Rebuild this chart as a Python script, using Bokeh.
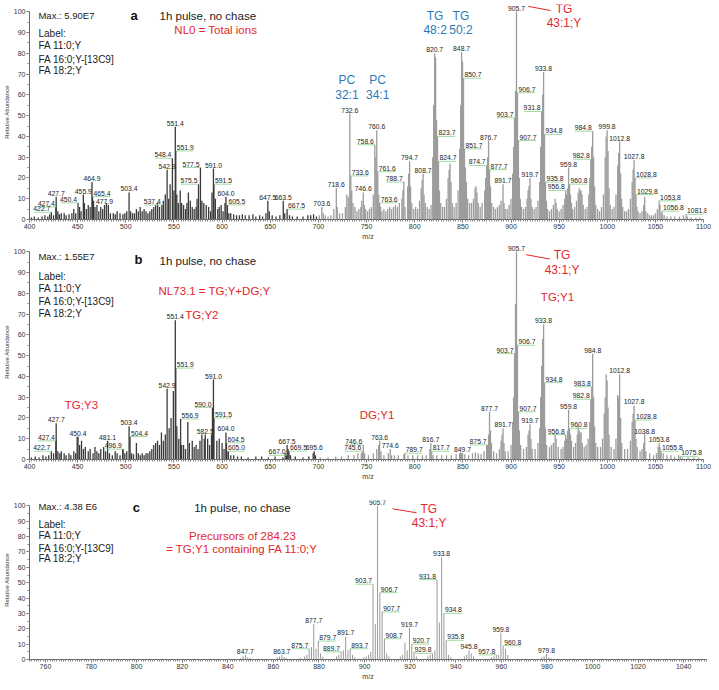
from bokeh.plotting import figure
from bokeh.models import ColumnDataSource, LabelSet, Label, Range1d, SingleIntervalTicker
from bokeh.layouts import column
from bokeh.core.properties import value
from bokeh.embed import file_html
from bokeh.resources import INLINE

FONT = "Liberation Sans"
RED = "#e5262b"
BLUE = "#2b7bba"
DARK = "#3a3a3a"
GRAY = "#9c9c9c"
LEADER = "#8ccf8c"
W = 711
YTOP = 103.5

# ---------------- panel a : NL0 = total ions ----------------
a_lab_mz = [422.7, 427.4, 427.7, 450.4, 455.9, 464.9, 465.4, 477.9, 503.4, 537.4,
            542.9, 548.4, 551.4, 551.9, 575.5, 577.5, 591.0, 591.5, 604.0, 605.5,
            647.5, 663.5, 667.5, 703.6, 718.6, 732.6, 733.6, 746.6, 758.6, 760.6,
            761.6, 763.6, 788.7, 794.7, 808.7, 820.7, 823.7, 824.7, 848.7, 850.7,
            851.7, 874.7, 876.7, 877.7, 891.7, 903.7, 905.7, 906.7, 907.7, 919.7,
            931.8, 933.8, 934.8, 935.8, 956.8, 959.8, 960.8, 982.8, 984.8, 999.8,
            1012.8, 1027.8, 1028.8, 1029.8, 1053.8, 1056.8, 1081.8]
a_lab_int = [3.5, 6, 11, 8, 12, 18, 11, 7, 13, 7,
             24, 29.5, 44.7, 33, 17, 25, 24.5, 17, 11, 7,
             9, 9, 5, 6, 15, 51, 21, 13, 36, 43,
             23, 8, 18, 28, 22, 80, 40, 28, 80.5, 68,
             34, 26, 38, 24, 17, 49, 100, 61, 38, 20,
             52, 71, 41, 18, 14, 25, 17, 29, 42.5, 43,
             37.5, 28.7, 20, 12, 9, 4, 2.5]
a_lab_side = ["l", "l", "c", "l", "c", "c", "r", "c", "c", "l",
              "c", "l", "c", "r", "l", "l", "c", "r", "c", "r",
              "c", "c", "r", "c", "c", "c", "r", "c", "l", "c",
              "r", "r", "l", "c", "c", "c", "r", "r", "c", "r",
              "r", "l", "c", "r", "c", "l", "c", "r", "r", "c",
              "l", "c", "r", "r", "l", "c", "r", "l", "l", "c",
              "c", "c", "r", "r", "r", "r", "r"]
a_mz_lo = [402, 405, 409, 413, 416, 419, 421, 425, 429.5, 431,
           433, 436, 438, 441, 444, 446, 448, 452, 453.5, 457,
           459, 461, 463, 466.5, 468, 470, 472, 474, 476, 479.9,
           481.9, 484, 487, 489, 491, 494, 497, 499, 501, 505,
           507, 509, 511, 513, 515, 517, 519, 521, 523, 525,
           527, 529, 531, 533, 535, 539, 541, 544.5, 546, 550,
           553, 554.5, 556.5, 558, 560, 562, 563.5, 565, 567, 569,
           571, 573, 574, 579, 581, 583.5, 586, 588, 589.5, 593,
           595.5, 597, 599, 601, 603, 607, 609, 612, 615, 618,
           621, 624, 628, 632, 635, 639, 642, 645.5, 649, 652,
           656, 660, 665, 670, 673, 678, 684, 689, 692, 695,
           698]
a_int_lo = [1, 1.5, 1, 1.5, 2, 1.5, 2.5, 2, 4, 2.5,
            3, 3, 2, 2.5, 3, 5, 3, 6, 4, 8,
            5, 7, 6, 9, 6, 7, 4, 6, 5, 8,
            7, 3, 3, 2.5, 4, 3, 2.5, 3, 4, 4,
            3, 3, 5, 4, 6, 4, 5, 4, 3, 4,
            5, 6, 7, 8, 6, 9, 12, 10, 17, 14,
            12, 8, 14, 8, 7, 5, 8, 13, 9, 6,
            5, 6, 10, 9, 8, 7, 6, 4, 13, 10,
            5, 6, 7, 4, 8, 3, 3, 2.5, 2, 2,
            2.5, 2, 2, 2.5, 1.5, 2, 1.5, 3, 4, 2,
            1.5, 2, 3, 2, 1.5, 1.5, 1.5, 2, 2, 2.5,
            1.5]
a_mz_hi = [701, 705, 707, 710, 713, 716, 719.6, 722, 725, 728,
           729.5, 731, 734.6, 736, 738, 740, 742, 744, 745, 747.6,
           749, 751, 753, 755, 757, 759.6, 762.6, 764.6, 766, 768,
           770, 772, 774, 776, 778, 780, 782, 784, 786.7, 787.7,
           790, 792.7, 793.7, 795.7, 797, 799, 801, 803, 805, 806.7,
           807.7, 809.7, 811, 813, 815, 817, 818.7, 819.7, 821.7, 822.7,
           825.7, 827, 829, 831, 833, 834.7, 835.7, 836.7, 837.7, 839,
           841, 843, 845, 846.7, 847.7, 849.7, 852.7, 853.7, 855, 857,
           859, 861, 862.7, 863.7, 864.7, 866, 868, 870, 872.7, 873.7,
           875.7, 878.7, 880, 882, 884, 886, 888, 889.7, 892.7, 894,
           896, 898, 900, 901.7, 902.7, 904.7, 908.7, 909.7, 911, 913,
           915, 916.7, 917.7, 918.7, 920.7, 922, 924, 926, 928, 929.8,
           930.8, 932.8, 936.8, 938, 940, 942, 944, 945.8, 946.8, 948,
           950, 952, 954, 955.8, 957.8, 958.8, 961.8, 962.8, 964, 966,
           968, 969.8, 970.8, 971.8, 972.8, 973.8, 975, 977, 979, 980.8,
           981.8, 983.8, 985.8, 986.8, 988, 990, 992, 994, 996, 997.8,
           998.8, 1000.8, 1001.8, 1003, 1005, 1007, 1009, 1010.8, 1011.8, 1013.8,
           1014.8, 1016, 1018, 1020, 1022, 1024, 1025.8, 1026.8, 1030.8, 1032,
           1034, 1036, 1037.8, 1038.8, 1040, 1042, 1044, 1046, 1048, 1050,
           1052, 1054.8, 1057, 1059, 1062, 1066, 1070, 1075, 1079, 1083,
           1087, 1092, 1096]
a_int_hi = [2, 3, 2, 1.5, 2, 5, 6, 3, 3, 6,
            12, 11, 14, 8, 6, 4, 5, 6, 9, 7,
            5, 4, 5, 6, 12, 30, 12, 6, 4, 5,
            4, 5, 6, 5, 6, 7, 6, 8, 10, 14,
            6, 16, 22, 16, 8, 5, 6, 5, 9, 15,
            19, 12, 8, 6, 5, 7, 30, 55, 78, 48,
            14, 8, 6, 6, 10, 20, 24, 27, 18, 8,
            6, 8, 14, 34, 55, 76, 25, 18, 10, 8,
            8, 10, 15, 16, 13, 8, 6, 8, 14, 20,
            30, 16, 8, 6, 5, 6, 7, 9, 8, 5,
            5, 7, 10, 22, 35, 62, 20, 10, 6, 5,
            6, 10, 14, 16, 10, 6, 5, 6, 9, 18,
            35, 60, 9, 5, 4, 5, 7, 10, 8, 5,
            4, 5, 7, 10, 12, 15, 12, 8, 5, 6,
            9, 13, 15, 14, 14, 12, 7, 5, 6, 12,
            20, 35, 30, 16, 7, 5, 4, 6, 12, 30,
            40, 33, 15, 7, 5, 6, 12, 26, 32, 22,
            10, 6, 4, 4, 5, 10, 18, 24, 6, 4,
            3, 4, 7, 11, 4, 3, 2, 2, 2, 3,
            5, 7, 3, 2, 1.5, 1.5, 1.5, 1.5, 2, 1.5,
            1, 1, 1]

# ---------------- panel b : NL73.1 ----------------
b_lab_mz = [422.7, 427.4, 427.7, 450.4, 481.1, 496.9, 503.4, 504.4, 542.9, 551.4,
            551.9, 556.9, 582.5, 590.0, 591.0, 591.5, 604.0, 604.5, 605.0, 667.0,
            667.5, 669.5, 695.6, 745.6, 746.6, 763.6, 774.6, 789.7, 816.7, 817.7,
            849.7, 875.7, 877.7, 891.7, 903.7, 905.7, 906.7, 907.7, 919.7, 933.8,
            934.8, 956.8, 959.8, 960.8, 982.8, 983.8, 984.8, 1012.8, 1027.8, 1028.8,
            1038.8, 1053.8, 1055.8, 1075.8]
b_lab_int = [4, 9, 17.5, 11, 9, 5, 16, 11, 34, 67,
             44, 19.5, 12, 25, 38.5, 20, 13, 8, 4, 2,
             7, 4, 4, 4, 7, 9, 5, 3, 8, 4,
             3, 7, 23, 15, 51, 100, 55, 23, 17, 65,
             37, 12, 24, 15, 29, 35, 51, 41, 26, 19,
             12, 8, 4, 1.5]
b_lab_side = ["l", "l", "c", "c", "c", "l", "c", "r", "c", "c",
              "r", "r", "c", "l", "c", "r", "c", "r", "r", "l",
              "c", "r", "c", "l", "l", "c", "c", "r", "c", "r",
              "c", "l", "c", "c", "l", "c", "r", "r", "c", "c",
              "r", "l", "c", "r", "l", "l", "c", "c", "c", "r",
              "c", "c", "r", "r"]
b_mz_lo = [402, 406, 410, 414, 417, 420, 425, 429.5, 431.5, 433,
           436, 438, 441, 443, 446, 448, 449.5, 452, 454, 456,
           458, 461, 463, 466, 468, 470, 472, 474, 477, 479,
           483, 486, 489, 491, 494, 497, 499, 501, 506, 508,
           511, 513, 515, 517, 519, 521, 523, 525, 527, 529,
           531, 533, 535, 537, 539, 541, 545, 547, 549.4, 553,
           555, 558, 560, 562, 564.4, 566, 569, 571, 573, 575,
           577, 579, 581.5, 585, 587, 589, 594.5, 597, 600, 602,
           606.5, 609, 612, 616, 620, 627, 635, 641, 648, 655,
           663, 665.5, 668.5, 671, 676, 684, 690, 694.6, 697]
b_int_lo = [1, 1.5, 1, 2, 1.5, 2, 3, 4, 3, 4,
            3, 2, 3, 2, 4, 3, 11, 7, 9, 5,
            6, 4, 5, 3, 6, 4, 3, 5, 6, 4,
            3, 2, 4, 3, 2, 5, 3, 4, 3, 2.5,
            8, 3, 2, 3, 2, 3, 3, 4, 5, 7,
            8, 9, 7, 13, 9, 12, 15, 20, 33, 16,
            10, 7, 7, 5, 18, 8, 9, 6, 7, 5,
            9, 12, 10, 10, 7, 12, 9, 10, 8, 5,
            4, 2, 2, 1.5, 1.5, 1, 1.5, 1.5, 1, 1.5,
            1, 3, 5, 2, 1.5, 1, 1.5, 3, 2]
b_mz_hi = [702, 710, 718, 724, 731, 737, 741, 744.6, 748, 752,
           757, 760.6, 762.6, 765, 768, 772.6, 776, 779, 783, 788.7,
           793, 798, 803, 808, 812, 815.7, 819, 823, 828, 833,
           838, 843, 846.7, 847.7, 848.7, 852, 856, 860, 863, 866,
           869, 872, 874.7, 876.7, 878.7, 879.7, 882, 885, 888, 889.7,
           890.7, 892.7, 894, 897, 900, 901.7, 902.7, 904.7, 908.7, 910,
           913, 916, 917.7, 918.7, 920.7, 922, 925, 928, 929.8, 930.8,
           931.8, 932.8, 935.8, 937, 940, 942, 944, 945.8, 946.8, 949,
           952, 954, 955.8, 957.8, 958.8, 961.8, 962.8, 965, 967, 968.8,
           969.8, 970.8, 971.8, 972.8, 974, 976, 978, 980, 981.8, 985.8,
           986.8, 988, 990, 993, 995, 996.8, 997.8, 998.8, 999.8, 1000.8,
           1001.8, 1004, 1007, 1009, 1010.8, 1011.8, 1013.8, 1015, 1018, 1021,
           1024, 1025.8, 1026.8, 1029.8, 1031, 1034, 1036, 1037.8, 1040, 1044,
           1048, 1051, 1052.8, 1054.8, 1058, 1062, 1066, 1070, 1074, 1078,
           1084, 1090, 1095]
b_int_hi = [1, 1, 1.5, 1.5, 2, 2, 3, 3, 3, 2,
            3, 5, 7, 4, 2, 3, 2, 2, 2, 2.5,
            2, 2, 2, 2, 2, 5, 2, 2, 2, 2,
            2, 2.5, 3, 3.5, 3, 2.5, 2, 3, 3.5, 3,
            2.5, 4, 7, 12, 14, 8, 4, 3, 5, 9,
            12, 8, 4, 4, 7, 18, 30, 75, 14, 7,
            5, 6, 12, 14, 10, 5, 5, 8, 15, 30,
            45, 58, 15, 7, 6, 7, 8, 12, 10, 6,
            5, 6, 9, 10, 14, 12, 9, 6, 8, 12,
            16, 14, 13, 13, 8, 6, 7, 10, 18, 30,
            16, 8, 6, 6, 10, 22, 30, 41, 38, 25,
            12, 6, 5, 10, 31, 30, 20, 8, 5, 5,
            9, 18, 22, 10, 6, 4, 5, 8, 4, 3,
            2, 3, 6, 6, 3, 2, 2, 1.5, 2, 1,
            1, 1, 1]

# ---------------- panel c : precursors of 284.23 ----------------
c_lab_mz = [847.7, 863.7, 875.7, 877.7, 879.7, 889.7, 891.7, 893.7, 903.7, 905.7,
            906.7, 907.7, 908.7, 919.7, 920.7, 929.8, 931.8, 933.8, 934.8, 935.8,
            945.8, 957.8, 959.8, 960.8, 979.8]
c_lab_int = [3, 3, 7, 23, 12, 5, 15, 7, 49, 100,
             43.5, 31, 13.5, 20.5, 10, 4, 52, 66.5, 30, 12.5,
             6, 3, 17.5, 9, 3.5]
c_lab_side = ["c", "c", "l", "c", "r", "l", "c", "r", "l", "c",
              "r", "r", "r", "c", "r", "l", "l", "c", "r", "r",
              "c", "l", "c", "r", "c"]
c_mz = [845.7, 846.7, 848.7, 849.7, 861.7, 862.7, 864.7, 865.7, 871.7, 873.7,
        874.7, 876.7, 878.7, 880.7, 881.7, 887.7, 888.7, 890.7, 892.7, 894.7,
        895.7, 899.7, 900.7, 901.7, 902.7, 904.7, 909.7, 910.7, 915.7, 916.7,
        917.7, 918.7, 921.7, 922.7, 927.8, 928.8, 930.8, 932.8, 936.8, 937.8,
        943.8, 944.8, 946.8, 947.8, 955.8, 956.8, 958.8, 961.8, 962.8, 977.8,
        978.8, 980.8, 981.8]
c_int = [1, 2, 1.5, 1, 1.5, 2, 1.5, 1, 1, 2,
         3, 8, 7, 4, 2, 2, 3, 6, 6, 3,
         1.5, 1.5, 2, 3, 5, 23, 4, 2, 2, 3,
         11, 6, 5, 2, 2, 3, 6, 24, 3, 1.5,
         2, 3, 4, 2, 1.5, 2, 3, 7, 3, 1.5,
         2, 1.5, 1]


def pair(xs, ys):
    n = min(len(xs), len(ys))
    return list(xs[:n]), list(ys[:n])


def make_panel(lab_mz, lab_int, lab_side, mn_mz, mn_int, xr, xbounds, xint, xminor,
               height, btop, bbot, split, stick_w, lo_color, hi_color):
    p = figure(width=W, height=height, x_range=Range1d(*xr), y_range=Range1d(0, YTOP),
               output_backend="svg", toolbar_location=None, tools="",
               min_border_left=24, min_border_right=5,
               min_border_top=btop, min_border_bottom=bbot)
    p.outline_line_color = None
    p.xgrid.visible = False
    p.ygrid.visible = False

    mz_all, h_all = pair(list(mn_mz) + list(lab_mz), list(mn_int) + list(lab_int))
    cols = [lo_color if m < split else hi_color for m in mz_all]
    src = ColumnDataSource(dict(mz=mz_all, h=h_all, c=cols))
    p.segment(x0="mz", y0=0, x1="mz", y1="h", line_color="c",
              line_width=stick_w, source=src)

    ppu = (W - 36) / (xr[1] - xr[0])
    L = 17.5 / ppu
    lm, lh = pair(lab_mz, lab_int)
    for side, align, xoff in (("c", "center", 0), ("l", "right", -1), ("r", "left", 1)):
        idx = [i for i in range(len(lm)) if i < len(lab_side) and lab_side[i] == side]
        d = dict(mz=[lm[i] for i in idx], h=[lh[i] for i in idx],
                 t=["%.1f" % lm[i] for i in idx])
        if side == "l":
            d["x0"] = [m - L for m in d["mz"]]
            d["x1"] = d["mz"]
        elif side == "r":
            d["x0"] = d["mz"]
            d["x1"] = [m + L for m in d["mz"]]
        s = ColumnDataSource(d)
        if side != "c":
            p.segment(x0="x0", y0="h", x1="x1", y1="h", line_color=LEADER,
                      line_width=0.8, source=s)
        p.add_layout(LabelSet(x="mz", y="h", text="t", source=s, text_align=align,
                              text_baseline="bottom", x_offset=xoff, y_offset=1,
                              text_font=value(FONT), text_font_size="6.8px",
                              text_color="#222222"))

    for ax in (p.xaxis[0], p.yaxis[0]):
        ax.axis_line_color = "#666666"
        ax.major_tick_line_color = "#666666"
        ax.minor_tick_line_color = "#888888"
        ax.major_tick_in = 0
        ax.major_tick_out = 3
        ax.minor_tick_in = 0
        ax.minor_tick_out = 2
        ax.major_label_text_font = FONT
        ax.major_label_text_font_size = "7px"
        ax.major_label_text_color = "#333333"
        ax.major_label_standoff = 1
        ax.axis_label_text_font = FONT
        ax.axis_label_text_font_style = "normal"
        ax.axis_label_text_color = "#333333"
        ax.axis_label_standoff = 1
    p.xaxis.ticker = SingleIntervalTicker(interval=xint, num_minor_ticks=xminor)
    p.yaxis.ticker = SingleIntervalTicker(interval=10, num_minor_ticks=2)
    p.yaxis.bounds = (0, 100)
    p.xaxis.bounds = xbounds
    p.xaxis.axis_label = "m/z"
    p.xaxis.axis_label_text_font_size = "7px"
    p.yaxis.axis_label = "Relative Abundance"
    p.yaxis.axis_label_text_font_size = "6px"
    return p


def txt(p, x, y, t, size="10px", color="#222222", align="left", bold=False):
    p.add_layout(Label(x=x, y=y, text=t, text_font=FONT, text_font_size=size,
                       text_color=color, text_align=align, text_baseline="middle",
                       text_font_style="bold" if bold else "normal"))


def label_block(p, x, ys, maxtext):
    txt(p, x, ys[0], maxtext, size="9.5px")
    for t, y in zip(["Label:", "FA 11:0;Y", "FA 16:0;Y-[13C9]", "FA 18:2;Y"], ys[1:]):
        txt(p, x, y, t)


# panel a
pa = make_panel(a_lab_mz, a_lab_int, a_lab_side, a_mz_lo + a_mz_hi, a_int_lo + a_int_hi,
                (400, 1103), (400, 1100), 50, 20, 242, 4, 22, 700, 1.3, DARK, GRAY)
label_block(pa, 409.3, [98, 89.5, 83.7, 77, 71.8], "Max.: 5.90E7")
txt(pa, 505, 98, "a", size="13px", bold=True, color="#111111")
txt(pa, 535, 98, "1h pulse, no chase", size="11.5px")
txt(pa, 550.4, 91, "NL0 = Total ions", size="11.5px", color=RED)
for xc, num in ((729.6, "32:1"), (761.5, "34:1")):
    txt(pa, xc, 67, "PC", size="12px", color=BLUE, align="center")
    txt(pa, xc, 59.8, num, size="12px", color=BLUE, align="center")
for xc, num in ((821.2, "48:2"), (848.0, "50:2")):
    txt(pa, xc, 98, "TG", size="12px", color=BLUE, align="center")
    txt(pa, xc, 91, num, size="12px", color=BLUE, align="center")
txt(pa, 955, 101.2, "TG", size="12px", color=RED, align="center")
txt(pa, 955, 94.6, "43:1;Y", size="12px", color=RED, align="center")
pa.line(x=[918, 941], y=[102.6, 100.6], line_color=RED, line_width=1)

# panel b
pb = make_panel(b_lab_mz, b_lab_int, b_lab_side, b_mz_lo + b_mz_hi, b_int_lo + b_int_hi,
                (400, 1103), (400, 1100), 50, 20, 240, 2, 22, 700, 1.3, DARK, GRAY)
label_block(pb, 409.3, [97.6, 88, 82.3, 76, 70.3], "Max.: 1.55E7")
txt(pb, 509, 96.2, "b", size="13px", bold=True, color="#111111")
txt(pb, 535, 95.7, "1h pulse, no chase", size="11.5px")
txt(pb, 534, 81.3, "NL73.1 = TG;Y+DG;Y", size="11.5px", color=RED)
txt(pb, 561.7, 69.6, "TG;Y2", size="11.5px", color=RED)
txt(pb, 436.7, 26, "TG;Y3", size="11.5px", color=RED)
txt(pb, 743, 21.5, "DG;Y1", size="11.5px", color=RED)
txt(pb, 931, 78, "TG;Y1", size="11.5px", color=RED)
txt(pb, 953, 98.3, "TG", size="12px", color=RED, align="center")
txt(pb, 953, 91.4, "43:1;Y", size="12px", color=RED, align="center")
pb.line(x=[915.6, 940.3], y=[98.6, 96.5], line_color=RED, line_width=1)

# panel c
pc = make_panel(c_lab_mz, c_lab_int, c_lab_side, c_mz, c_int,
                (753, 1050), (753, 1050), 20, 20, 200, 18, 22, 0, 1, "#9a9a9a", "#9a9a9a")
label_block(pc, 756.9, [99.7, 87.6, 80.4, 72.4, 65.5], "Max.: 4.38 E6")
txt(pc, 798.3, 99, "c", size="13px", bold=True, color="#111111")
txt(pc, 846.4, 98.8, "1h pulse, no chase", size="11.5px", align="center")
txt(pc, 846.4, 80.7, "Precursors of 284.23", size="11.5px", color=RED, align="center")
txt(pc, 846.2, 72, "= TG;Y1 containing FA 11:0;Y", size="11.5px", color=RED, align="center")
txt(pc, 928.2, 97.7, "TG", size="12px", color=RED, align="center")
txt(pc, 928.3, 89, "43:1;Y", size="12px", color=RED, align="center")
pc.line(x=[912.3, 922.8], y=[98.1, 95.5], line_color=RED, line_width=1)

layout = column(pa, pb, pc)
open("out.html", "w").write(file_html(layout, INLINE, title="Mass spectra"))
